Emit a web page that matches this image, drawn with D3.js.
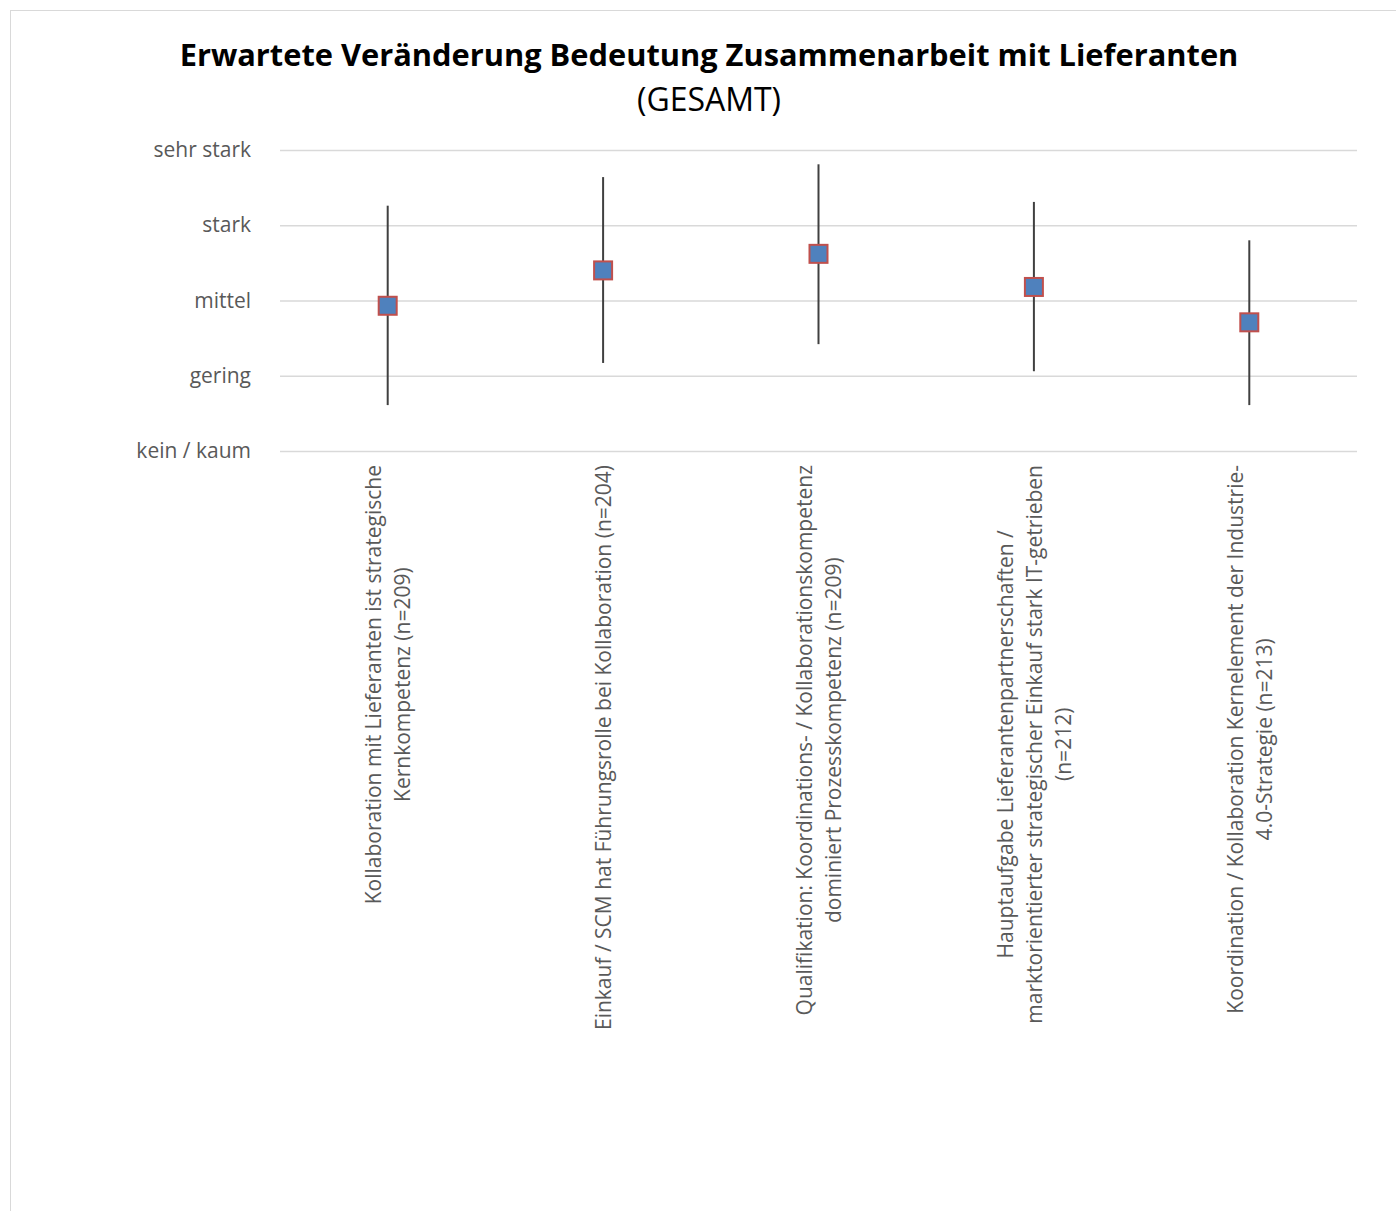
<!DOCTYPE html>
<html>
<head>
<meta charset="utf-8">
<script src="https://cdn.jsdelivr.net/npm/d3@7"></script>
<style>
  html, body { margin: 0; padding: 0; background: #fff; }
  svg { display: block; font-family: "Open Sans", sans-serif; }
</style>
</head>
<body>
<svg id="chart" width="1396" height="1211"></svg>
<script>
// Survey: expected change in importance of supplier collaboration (means with spread)
const categories = [
  "Kollaboration mit Lieferanten ist strategische Kernkompetenz (n=209)",
  "Einkauf / SCM hat Führungsrolle bei Kollaboration (n=204)",
  "Qualifikation: Koordinations- / Kollaborationskompetenz dominiert Prozesskompetenz (n=209)",
  "Hauptaufgabe Lieferantenpartnerschaften / marktorientierter strategischer Einkauf stark IT-getrieben (n=212)",
  "Koordination / Kollaboration Kernelement der Industrie-4.0-Strategie (n=213)"
];
// Wrapped lines of each category label, as printed under the axis
const categoryLines = [
  ["Kollaboration mit Lieferanten ist strategische", "Kernkompetenz (n=209)"],
  ["Einkauf / SCM hat Führungsrolle bei Kollaboration (n=204)"],
  ["Qualifikation: Koordinations- / Kollaborationskompetenz", "dominiert Prozesskompetenz (n=209)"],
  ["Hauptaufgabe Lieferantenpartnerschaften /", "marktorientierter strategischer Einkauf stark IT-getrieben", "(n=212)"],
  ["Koordination / Kollaboration Kernelement der Industrie-", "4.0-Strategie (n=213)"]
];
const meanValues = [1.93, 2.40, 2.62, 2.18, 1.71];
const lowValues  = [0.61, 1.17, 1.42, 1.06, 0.61];
const highValues = [3.26, 3.64, 3.81, 3.31, 2.80];
const tickValues = [0, 1, 2, 3, 4];
const tickLabels = ["kein / kaum", "gering", "mittel", "stark", "sehr stark"];

const titleText = "Erwartete Veränderung Bedeutung Zusammenarbeit mit Lieferanten";
const subtitleText = "(GESAMT)";

const svg = d3.select("#chart");

// Outer frame (extends past the right and bottom edges)
svg.append("rect")
  .attr("x", 10.5).attr("y", 10.5)
  .attr("width", 1500).attr("height", 1500)
  .attr("fill", "none").attr("stroke", "#d9d9d9").attr("stroke-width", 1);

// Titles
svg.append("text")
  .attr("x", 709).attr("y", 66)
  .attr("text-anchor", "middle")
  .attr("font-weight", "bold").attr("font-size", 30.8)
  .attr("fill", "#000")
  .text(titleText);
svg.append("text")
  .attr("x", 709).attr("y", 111)
  .attr("text-anchor", "middle")
  .attr("font-size", 32)
  .attr("fill", "#000")
  .text(subtitleText);

const x = d3.scaleBand().domain(categories).range([280, 1357]).padding(0);
const y = d3.scaleLinear().domain([0, 4]).range([451, 150]);

// Y axis: gridlines + level labels
const yAxis = d3.axisLeft(y)
  .tickValues(tickValues)
  .tickFormat((d, i) => tickLabels[i])
  .tickSize(-(1357 - 280))
  .tickPadding(29);
const gy = svg.append("g").attr("transform", "translate(280,0)").call(yAxis);
gy.select(".domain").remove();
gy.selectAll(".tick line").attr("stroke", "#d9d9d9").attr("stroke-width", 1.5);
gy.selectAll(".tick text")
  .attr("font-family", "Open Sans, sans-serif")
  .attr("font-size", 21).attr("fill", "#595959");

// Spread lines
const idx = d3.range(categories.length);
svg.append("g").selectAll("line")
  .data(idx)
  .join("line")
  .attr("x1", i => x(categories[i]) + x.bandwidth() / 2)
  .attr("x2", i => x(categories[i]) + x.bandwidth() / 2)
  .attr("y1", i => y(lowValues[i]))
  .attr("y2", i => y(highValues[i]))
  .attr("stroke", "#404040").attr("stroke-width", 2);

// Mean markers
const ms = 18;
svg.append("g").selectAll("rect")
  .data(idx)
  .join("rect")
  .attr("x", i => x(categories[i]) + x.bandwidth() / 2 - ms / 2)
  .attr("y", i => y(meanValues[i]) - ms / 2)
  .attr("width", ms).attr("height", ms)
  .attr("fill", "#4f81bd")
  .attr("stroke", "#c0504d").attr("stroke-width", 2);

// Rotated category labels below the axis
const labelTop = 465;
const lineGap = 29;
idx.forEach(i => {
  const cx = x(categories[i]) + x.bandwidth() / 2;
  const g = svg.append("g")
    .attr("transform", `translate(${cx},${labelTop}) rotate(-90)`);
  const lines = categoryLines[i];
  const texts = g.selectAll("text")
    .data(lines)
    .join("text")
    .attr("font-size", 21)
    .attr("fill", "#595959")
    .attr("text-anchor", "middle")
    .attr("dominant-baseline", "central")
    .attr("y", (d, j) => (j - (lines.length - 1) / 2) * lineGap)
    .text(d => d);
  let maxW = 0;
  texts.each(function () { maxW = Math.max(maxW, this.getComputedTextLength()); });
  texts.attr("x", -maxW / 2);
});
</script>
</body>
</html>
